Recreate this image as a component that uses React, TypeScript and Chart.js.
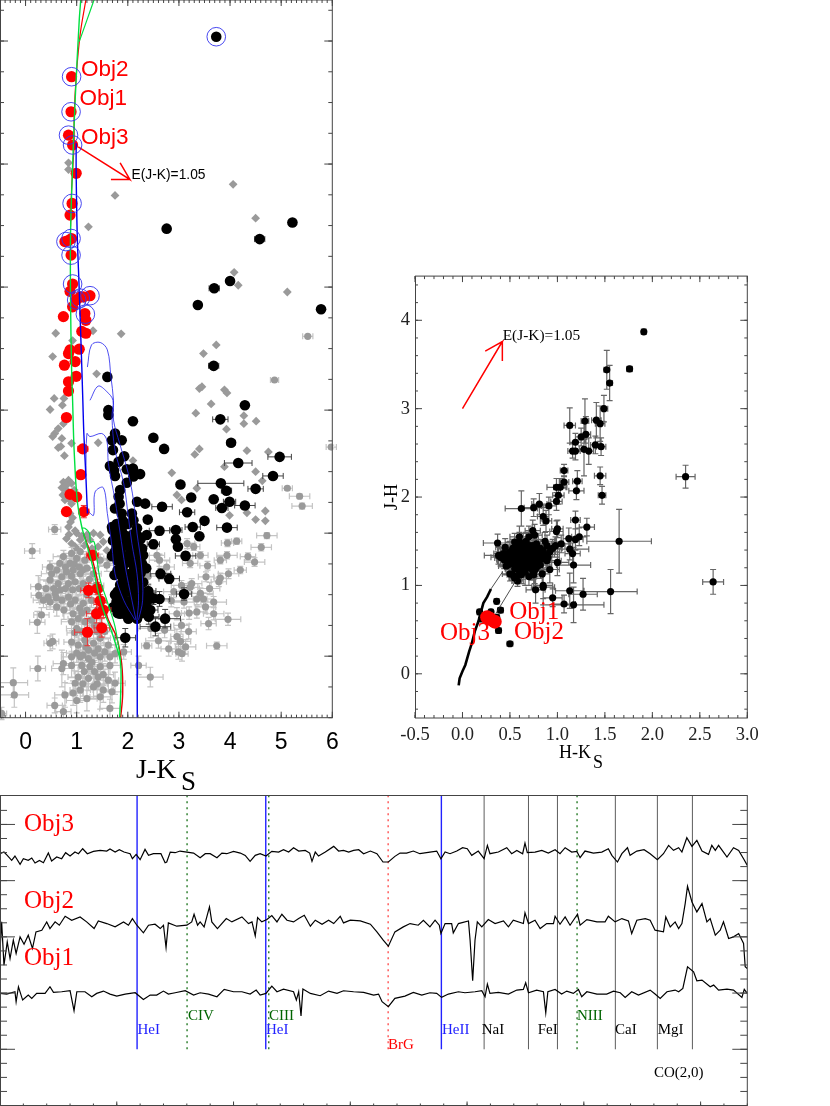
import React, { useEffect, useRef } from "react";
import { Chart, registerables } from "chart.js";
Chart.register(...registerables);

// ---------- Colour-magnitude diagram (J-Ks vs K) ----------
const cmdGrayDiamonds = [[.84,5.98],[.84,6.09],[4.06,6.33],[1.75,6.51],[4.5,6.88],[1.23,7.02],[4.08,7.76],[4.16,7.97],[5.12,8.08],[.59,8.75],[1.32,8.71],[1.87,8.76],[3.73,8.94],[3.48,9.08],[.92,8.87],[.53,9.13],[1.39,9.41],[3.4,9.65],[3.45,9.62],[3.89,9.67],[3.94,9.72],[.56,9.81],[.75,9.81],[.48,9.99],[.72,9.92],[3.63,9.9],[3.33,10.05],[4.27,10.09],[4.27,10.22],[4.51,10.18],[3.93,10.31],[.74,10.22],[.64,10.3],[.57,10.38],[.53,10.43],[.71,10.46],[.64,10.61],[.69,10.59],[.76,10.74],[.9,10.54],[1.42,10.53],[3.4,10.63],[3.31,10.72],[4.33,10.66],[4.75,10.68],[2.1,10.82],[2.86,11.02],[3.89,10.92],[4.5,11.0],[4.63,11.15],[3.35,11.27],[2.96,11.38],[3.05,11.46],[4.69,11.64],[4.33,11.67],[4.5,11.78],[4.69,11.8],[3.99,11.71],[.74,11.17],[.84,11.14],[.9,11.19],[.71,11.26],[.8,11.3],[.73,11.38],[.77,11.46],[.9,11.52],[.84,11.9],[.87,11.68],[.8,12.09],[1.0,12.0],[.9,12.17],[1.07,12.11],[.97,12.22],[1.2,12.03],[1.33,12.0],[1.46,12.03],[1.52,12.14],[1.59,12.28],[1.42,12.22],[1.26,12.11],[.8,11.22],[.95,11.3],[.85,11.45],[.92,11.75],[.88,11.82],[.97,11.96],[.85,12.02],[1.1,12.05],[1.15,12.2],[1.3,12.25],[1.02,12.27]];
const cmdGrayErr = [[5.52,8.8,.1,.02],[4.87,9.51,.08,.02],[5.98,10.6,.1,.03],[5.12,11.27,.1,.03],[5.36,11.4,.2,.04],[5.41,11.56,.2,.05],[4.72,12.04,.2,.05],[4.61,12.23,.2,.06],[4.13,12.13,.1,.05],[3.95,12.16,.12,.06],[4.35,12.38,.15,.06],[4.48,12.47,.2,.07],[4.2,12.6,.12,.06],[3.94,12.36,.2,.06],[3.81,12.44,.12,.06],[3.56,12.53,.15,.07],[3.42,12.36,.15,.06],[3.22,12.49,.15,.07],[3.29,12.22,.12,.06],[3.97,12.66,.2,.08],[3.78,12.79,.15,.08],[3.81,12.73,.12,.08],[3.53,12.71,.15,.08],[3.25,12.82,.2,.08],[3.42,12.98,.25,.09],[3.35,13.07,.2,.09],[3.68,13.12,.25,.09],[3.48,13.07,.2,.1],[3.22,12.88,.15,.08],[3.05,12.85,.2,.08],[2.96,13.31,.15,.1],[3.35,13.28,.2,.1],[3.68,13.31,.2,.1],[3.58,13.47,.15,.1],[3.96,13.4,.25,.1],[3.05,13.5,.15,.1],[3.19,13.6,.15,.12],[2.96,13.68,.12,.12],[3.03,13.76,.2,.12],[3.13,13.85,.2,.12],[2.8,13.88,.15,.12],[2.99,13.93,.12,.12],[3.06,13.96,.12,.12],[3.74,13.83,.2,.06],[2.37,13.83,.1,.05],[2.44,14.34,.25,.16],[.57,11.94,.12,.08],[.13,12.29,.15,.12],[.25,12.87,.15,.18],[.26,13.01,.15,.12],[.31,13.33,.15,.12],[.23,13.45,.15,.18],[.48,13.79,.12,.12],[.53,13.76,.12,.12],[.24,14.2,.15,.2],[-.24,14.43,.28,.24],[-.22,14.63,.28,.2],[-.47,14.93,.1,.1],[.57,14.8,.15,.12],[.74,14.9,.15,.1],[.74,12.38,.2,.1],[.9,12.33,.15,.1],[1.07,12.3,.15,.12],[1.0,12.41,.2,.1],[1.16,12.44,.15,.1],[.87,12.49,.2,.12],[.67,12.49,.2,.12],[.48,12.55,.15,.1],[.51,12.66,.2,.12],[.61,12.6,.2,.1],[.71,12.71,.2,.12],[.8,12.63,.2,.1],[.93,12.6,.15,.1],[1.07,12.66,.2,.12],[1.2,12.57,.2,.1],[1.46,12.44,.15,.1],[1.59,12.52,.15,.1],[1.65,12.41,.12,.08],[.48,12.76,.2,.12],[.64,12.82,.2,.12],[.84,12.82,.2,.15],[.97,12.79,.2,.12],[1.13,12.82,.2,.12],[1.33,12.66,.15,.1],[.44,13.04,.2,.12],[.58,12.98,.2,.15],[.71,13.09,.2,.15],[.48,13.12,.2,.12],[.61,13.2,.2,.15],[.35,13.09,.2,.12],[.84,13.04,.2,.15],[.97,13.09,.2,.15],[1.13,13.14,.2,.15],[1.29,13.09,.2,.12],[.93,13.31,.2,.15],[1.03,13.39,.2,.15],[.9,13.44,.2,.15],[1.0,13.55,.2,.15],[1.16,13.44,.2,.15],[1.29,13.41,.2,.15],[1.46,13.5,.2,.12],[.9,13.77,.15,.15],[1.03,13.82,.15,.15],[1.16,13.74,.2,.15],[1.33,13.79,.2,.15],[1.46,13.71,.2,.12],[1.62,13.82,.15,.12],[1.42,13.88,.2,.15],[1.23,13.9,.2,.15],[1.07,14.01,.2,.18],[.9,14.01,.2,.18],[.74,14.12,.2,.18],[1.23,14.04,.2,.18],[1.46,14.01,.2,.18],[1.65,14.01,.15,.15],[1.92,13.93,.15,.12],[1.75,13.96,.2,.15],[1.1,14.15,.2,.18],[.9,14.15,.2,.2],[.71,14.2,.2,.3],[1.26,14.17,.2,.18],[1.46,14.17,.2,.18],[1.65,14.15,.2,.15],[2.21,14.15,.15,.15],[1.03,14.34,.2,.2],[1.23,14.36,.2,.2],[1.42,14.34,.2,.2],[1.62,14.39,.2,.18],[1.75,14.44,.2,.18],[.97,14.44,.2,.2],[1.07,14.55,.2,.2],[1.33,14.5,.2,.2],[1.52,14.55,.2,.2],[1.69,14.58,.2,.18],[.93,14.6,.2,.2],[1.2,14.69,.2,.2],[1.0,14.72,.2,.2],[1.46,14.66,.2,.2],[1.65,14.85,.2,.15],[.77,14.63,.2,.2],[2.57,12.36,.15,.1],[2.76,12.55,.15,.1],[3.16,12.17,.15,.08],[2.62,12.44,.2,.1],[2.4,12.7,.2,.12],[2.2,13.2,.25,.15],[2.6,13.75,.25,.12],[2.45,13.55,.25,.15],[.95,12.5,.15,.1],[1.05,12.55,.15,.1],[1.12,12.6,.15,.1],[.9,12.7,.15,.1],[.78,12.9,.2,.12],[.92,12.92,.2,.12],[1.05,12.9,.2,.12],[1.2,13.0,.2,.12],[.88,13.15,.2,.15],[1.06,13.22,.2,.15],[1.2,13.25,.2,.15],[.96,13.62,.15,.12],[1.1,13.6,.2,.12],[1.25,13.62,.2,.15],[1.4,13.6,.2,.12],[1.0,13.95,.2,.15],[1.12,13.98,.2,.15],[1.35,13.95,.2,.15],[1.55,13.93,.2,.15],[1.15,14.25,.2,.18],[1.35,14.25,.2,.18],[.55,12.9,.2,.12],[.68,12.92,.2,.12],[.4,12.9,.2,.12],[.75,13.25,.2,.15],[.6,13.05,.2,.12],[.78,12.55,.15,.1],[1.25,12.75,.15,.1],[1.38,12.85,.15,.1],[1.4,13.25,.2,.12],[1.1,13.3,.2,.15],[1.35,13.5,.2,.12],[1.55,13.6,.15,.12],[1.18,13.85,.2,.15],[1.3,14.1,.2,.18],[1.52,14.3,.2,.18],[1.12,14.45,.2,.2],[1.4,14.45,.2,.2],[2.9,12.95,.2,.1],[3.1,13.12,.2,.1],[2.85,13.1,.2,.1],[3.52,13.2,.2,.1],[3.2,13.3,.15,.1],[2.72,13.58,.2,.12],[3.6,12.9,.2,.1]];
const cmdBlack = [[3.73,3.93],[2.76,7.05],[5.22,6.95],[4.58,7.22,.1,.03],[4.0,7.9],[3.69,8.02,.1,.03],[3.37,8.29],[5.78,8.36],[3.68,9.28,.1,.03],[1.6,9.46],[4.29,9.92],[1.62,10.0],[1.62,10.08],[2.1,10.18],[3.81,10.15,.15,.03],[1.75,10.38],[1.69,10.49],[1.88,10.49],[2.5,10.45],[2.71,10.63],[4.02,10.53,.08,.03],[1.71,10.65],[1.93,10.75],[1.82,10.84],[1.65,10.91],[1.73,10.98],[1.75,11.07],[1.98,10.96],[2.1,10.95],[2.24,11.04],[2.11,11.08],[4.16,10.86,.27,.04],[4.97,10.76,.23,.04],[4.84,11.07,.2,.05],[3.03,11.21],[3.82,11.19,.45,.05],[3.93,11.31,.1,.05],[4.5,11.28,.15,.05],[1.98,11.18],[1.85,11.3],[1.82,11.41],[1.84,11.52],[1.75,11.6],[2.18,11.49],[2.34,11.52],[3.24,11.42],[3.68,11.45],[3.99,11.49,.12,.05],[4.29,11.55,.2,.05],[3.84,11.59,.12,.05],[2.67,11.57,.2,.06],[3.16,11.66,.15,.06],[2.08,11.68],[1.88,11.68],[2.11,11.79],[2.39,11.78],[3.5,11.8],[3.27,11.9,.15,.06],[3.94,11.91,.2,.06],[2.94,11.95,.12,.06],[2.62,11.96,.2,.07],[1.69,11.9],[1.82,11.9],[1.75,12.0],[1.88,11.92],[2.18,11.92],[2.0,11.85],[2.37,12.03],[3.4,12.05],[2.94,12.1],[2.98,12.22],[2.5,12.18,.12,.07],[1.71,12.12],[1.84,12.12],[1.78,12.22],[1.94,12.19],[2.08,12.14],[2.18,12.22],[1.9,12.0],[2.25,12.1],[1.69,12.37],[3.13,12.37,.2,.07],[1.92,12.38],[2.08,12.36],[2.3,12.36],[1.95,12.49],[2.21,12.49],[2.36,12.57],[2.64,12.66,.2,.08],[2.81,12.74,.2,.08],[1.74,12.68],[2.05,12.66],[1.98,12.76],[2.18,12.76],[1.85,12.84],[2.08,12.87],[1.8,12.95],[2.01,12.95],[2.24,12.93],[2.4,12.94,.15,.1],[3.1,12.99,.15,.1],[2.5,13.06,.15,.1],[2.62,13.07,.2,.12],[1.78,13.11],[2.04,13.12],[2.21,13.09],[2.44,13.25,.15,.1],[1.92,13.22],[2.08,13.28],[1.85,13.31],[2.01,13.39],[2.18,13.39],[2.41,13.36,.2,.12],[2.73,13.39,.3,.15],[2.54,13.52,.3,.15],[1.95,13.7,.2,.15],[1.95,12.2],[2.05,12.3],[2.12,12.55],[1.9,12.6],[1.95,12.9],[2.15,13.0],[2.3,12.8],[1.88,13.0],[1.95,13.1],[2.12,13.2],[1.7,11.95],[1.78,11.85],[1.9,11.8],[1.98,12.05],[2.1,12.02],[2.2,12.05],[1.75,12.3],[1.85,12.3],[2.0,12.2],[2.15,12.35],[2.28,12.25],[1.8,12.45],[1.88,12.5],[2.05,12.45],[2.28,12.5],[1.8,12.6],[2.1,12.7],[2.25,12.65],[1.9,12.72],[2.02,12.85],[2.15,12.9],[2.3,13.0],[1.75,13.0],[1.88,12.9],[2.12,13.05],[1.72,13.2],[1.85,13.15],[2.0,13.2],[2.2,13.2],[2.32,13.15],[1.8,13.3],[1.95,13.32],[2.1,13.35],[2.28,13.3],[2.38,13.1],[2.45,13.05]];
const cmdRed = [[.9,4.58],[.89,5.15],[.84,5.53],[.92,5.69],[.99,6.15],[.91,6.64],[.87,6.83],[.84,7.24],[.77,7.26],[.9,7.21],[.89,7.48],[.92,7.95],[.87,8.07],[.99,8.21],[.92,8.32],[1.13,8.16],[1.26,8.14],[1.07,8.16],[.74,8.48],[1.16,8.43],[1.18,8.54],[1.1,8.72],[1.18,8.75],[.87,9.02],[1.05,9.01],[.84,9.08],[.97,9.21],[.76,9.27],[.99,9.45],[.84,9.54],[.84,9.69],[.8,10.12],[1.12,10.63,.1,.05],[1.08,11.05],[.87,11.37],[1.0,11.41],[.8,11.65],[1.14,11.65,.1,.1],[1.31,12.36,.12,.08],[1.23,12.93,.15,.12],[1.41,12.9,.1,.1],[1.46,13.1,.12,.1],[1.39,13.31,.2,.15],[1.52,13.25,.15,.12],[1.49,13.54,.15,.15],[1.21,13.61,.25,.22]];
const cmdRings = [[3.73,3.93],[.9,4.58],[.89,5.15],[.84,5.53],[.92,5.69],[.91,6.64],[.79,7.26],[.89,7.21],[.89,7.48],[.92,7.95],[1.0,8.21],[1.07,8.18],[1.26,8.14],[1.17,8.44]];
const cmdBlueTrackA = [[.99,5.66],[.99,6.15],[1.01,7.13],[1.05,8.05],[1.1,9.3],[1.12,9.84],[1.14,10.38],[1.18,11.08],[1.21,11.68]];
const cmdBlueTrackB = [[2.18,13.41],[2.19,14.17],[2.18,15]];
const cmdBlueLoop1 = [[1.21,9.3],[1.29,8.94],[1.46,8.9],[1.6,9.02],[1.67,9.46],[1.72,9.84],[1.72,10.16],[1.84,10.54],[2.01,11.03],[2.11,11.46],[2.18,12.0],[2.27,12.55],[2.29,13.09],[2.21,13.41]];
const cmdBlueLoop2 = [[1.26,9.84],[1.42,9.61],[1.59,9.7],[1.71,9.84],[1.69,10.11],[1.75,10.65],[1.92,11.19],[2.01,11.73],[2.08,12.17],[2.18,12.66],[2.21,13.09],[2.18,13.41]];
const cmdBlueLoop3 = [[1.18,11.08],[1.2,10.38],[1.26,10.43],[1.49,10.38],[1.59,10.49],[1.62,10.87],[1.75,11.46],[1.85,12.0],[1.95,12.55],[2.08,13.09],[2.16,13.41]];
const cmdBlueLoop4 = [[1.23,11.65],[1.33,11.71],[1.36,11.33],[1.52,11.26],[1.6,11.68],[1.69,12.22],[1.75,12.66],[1.92,13.09],[2.14,13.41]];
const cmdGreenMain = [[1.08,3.33],[1.05,3.66],[.97,4.96],[.92,6.04],[.88,7.13],[.88,8.21],[.9,9.3],[.92,9.84],[.95,10.65],[1.01,11.46],[1.1,11.9],[1.21,12.22],[1.33,12.6],[1.42,12.95],[1.52,13.25],[1.65,13.52],[1.78,13.85],[1.86,14.12],[1.86,14.61],[1.84,15]];
const cmdGreenTop = [[1.05,4.01],[1.2,3.66],[1.34,3.33]];
const cmdGreenBump = [[1.1,11.92],[1.16,11.92],[1.25,12.0],[1.27,12.14],[1.34,12.14],[1.39,12.38],[1.46,12.76],[1.59,13.09],[1.75,13.52],[1.86,14.07]];
const cmdRedTop = [[1.18,3.33],[1.07,3.88],[.99,4.58],[.95,5.23],[.95,5.66],[.9,6.42],[.88,7.02]];
const cmdRedBottom = [[1.13,12.0],[1.29,12.38],[1.39,12.71],[1.49,13.09],[1.62,13.41],[1.78,13.69],[1.88,14.12],[1.9,14.61],[1.86,15]];
const cmdArrow = [[1.03,5.72],[2.04,6.25],[1.85,5.98],[2.04,6.25],[1.67,6.25]];
const cmdXLabels = [0, 1, 2, 3, 4, 5, 6];

// ---------- Colour-colour diagram (H-Ks vs J-H) ----------
const ccdBlack = [[1.91,3.87,.02,.03],[1.76,3.45,.03,.03],[1.52,3.44,.03,.22],[1.55,3.29,.03,.2],[1.49,3.0,.04,.15],[1.29,2.86,.04,.25],[1.41,2.87,.05,.2],[1.45,2.83,.05,.2],[1.13,2.81,.06,.2],[1.3,2.71,.05,.2],[1.25,2.68,.06,.1],[1.19,2.62,.06,.1],[1.4,2.59,.05,.1],[1.46,2.57,.05,.1],[1.16,2.52,.05,.08],[1.19,2.52,.05,.1],[1.28,2.54,.05,.3],[1.33,2.52,.05,.15],[1.45,2.24,.06,.1],[1.07,2.3,.04,.07],[1.21,2.18,.05,.12],[1.07,2.17,.05,.07],[1.2,2.07,.08,.1],[1.47,2.02,.04,.1],[.99,2.11,.1,.1],[1.03,2.11,.07,.1],[1.01,2.02,.06,.1],[.99,1.95,.06,.1],[.91,1.9,.08,.1],[.81,1.92,.08,.12],[.75,1.88,.1,.1],[.62,1.87,.17,.2],[.85,1.78,.06,.1],[.88,1.73,.06,.12],[1.19,1.74,.05,.1],[1.31,1.66,.08,.1],[1.0,1.64,.06,.1],[.99,1.61,.07,.12],[.74,1.62,.08,.12],[.76,1.57,.08,.12],[1.65,1.5,.34,.36],[1.12,1.53,.06,.12],[1.23,1.55,.08,.1],[1.19,1.52,.08,.12],[.37,1.48,.15,.1],[.6,1.55,.1,.12],[.87,1.5,.1,.1],[.89,1.45,.1,.12],[.98,1.45,.1,.1],[1.04,1.47,.1,.1],[1.13,1.41,.2,.12],[1.16,1.36,.08,.12],[1.17,1.23,.18,.2],[1.0,1.26,.12,.15],[2.35,2.23,.1,.13],[2.64,1.04,.11,.14],[1.56,.93,.28,.25],[.77,.95,.1,.15],[.85,1.0,.1,.15],[.85,.98,.12,.2],[.95,.86,.1,.1],[1.13,.94,.15,.2],[1.27,.9,.15,.18],[1.07,.79,.12,.1],[1.17,.78,.32,.2],[.84,1.13,.08,.15],[.92,1.18,.1,.15],[.75,1.12,.1,.15],[.4,1.32,.1,.1],[.43,1.36,.1,.1],[.47,1.28,.1,.1],[.5,1.38,.1,.12],[.48,1.23,.1,.1],[.54,1.28,.1,.12],[.55,1.19,.1,.1],[.57,1.36,.1,.12],[.59,1.26,.1,.12],[.61,1.43,.1,.12],[.62,1.32,.1,.12],[.64,1.19,.1,.12],[.66,1.38,.1,.12],[.68,1.26,.12,.15],[.71,1.45,.1,.12],[.71,1.32,.1,.12],[.73,1.21,.12,.15],[.75,1.39,.1,.12],[.76,1.28,.12,.12],[.78,1.47,.1,.12],[.8,1.34,.12,.12],[.82,1.23,.12,.15],[.85,1.39,.12,.12],[.55,1.08,.06,.05],[.5,1.13,.08,.08],[.66,1.15,.1,.15],[.6,1.12,.1,.1],[.89,1.28,.15,.12],[.64,1.47,.1,.12],[.55,1.49,.1,.1],[.45,1.43,.1,.1],[.38,1.34,.15,.1],[.76,1.17,.1,.15],[.52,1.32,.08,.1],[.56,1.25,.08,.1],[.6,1.3,.08,.1],[.65,1.3,.08,.1],[.7,1.38,.08,.1],[.62,1.22,.08,.1],[.72,1.27,.08,.1],[.36,.82,.02,.03],[.38,.49,.03,.03],[.5,.34,.03,.02],[.4,.72,.03,.03],[.36,.64,.03,.03],[.18,.7,.02,.03],[.2,.62,.02,.02],[.3,.7,.02,.03],[.44,1.29,.08,.1],[.46,1.33,.08,.1],[.49,1.31,.08,.1],[.52,1.25,.08,.1],[.53,1.35,.08,.1],[.56,1.3,.08,.1],[.58,1.34,.08,.1],[.58,1.2,.08,.1],[.6,1.38,.08,.1],[.63,1.28,.08,.1],[.63,1.36,.08,.1],[.66,1.24,.08,.1],[.67,1.33,.08,.1],[.69,1.2,.08,.1],[.69,1.42,.08,.1],[.72,1.35,.08,.1],[.74,1.3,.08,.1],[.74,1.16,.08,.1],[.77,1.36,.08,.1],[.79,1.26,.08,.1],[.5,1.25,.08,.1],[.42,1.31,.08,.1],[.48,1.36,.08,.1],[.82,1.42,.1,.1],[.84,1.3,.1,.1],[.87,1.35,.1,.1],[.92,1.38,.1,.1],[.95,1.42,.1,.1],[.58,1.44,.08,.1],[.67,1.5,.08,.1],[.74,1.45,.08,.1],[.62,1.12,.08,.1],[.7,1.1,.08,.1],[.53,1.12,.06,.06],[.58,1.05,.06,.06],[.46,1.22,.08,.1],[.53,1.42,.08,.1],[.6,1.5,.1,.1],[.7,1.55,.1,.12],[.66,1.45,.08,.1],[.78,1.2,.1,.12],[.8,1.42,.08,.1],[.55,1.39,.08,.1],[.6,1.16,.08,.1],[.68,1.36,.08,.1],[.7,1.28,.08,.1],[.65,1.41,.08,.1],[.75,1.24,.08,.1],[.83,1.36,.1,.1],[.9,1.32,.12,.12]];
const ccdRed = [[.26,.64],[.34,.59],[.29,.62]];
const ccdDwarfLocus = [[-.04,-.13],[-.03,-.05],[0,.03],[.03,.1],[.07,.25],[.1,.35],[.13,.48],[.17,.6],[.2,.72],[.22,.8],[.26,.87],[.3,.96]];
const ccdReddeningA = [[.3,.96],[.42,1.15]];
const ccdReddeningB = [[.35,.68],[.56,1.05]];
const ccdArrow = [[0,3],[.42,3.76],[.24,3.65],[.42,3.76],[.42,3.54]];
const ccdXLabels = [-0.5, 0, 0.5, 1, 1.5, 2, 2.5, 3];
const ccdYLabels = [0, 1, 2, 3, 4];

// ---------- K-band spectra (wavelength nm, relative flux + offset) ----------
const specObj3 = [[2000,7.57],[2001.7,7.62],[2003.1,7.52],[2005,7.37],[2006.4,7.5],[2008.6,7.25],[2010,7.42],[2012.1,7.37],[2013.6,7.44],[2015,7.29],[2016.9,7.37],[2018.6,7.3],[2020.7,7.59],[2022.1,7.35],[2024.3,7.47],[2026.4,7.42],[2028.1,7.6],[2030,7.5],[2032.1,7.62],[2033.6,7.57],[2035.4,7.72],[2037.4,7.57],[2040,7.64],[2042.9,7.67],[2045.7,7.65],[2047.1,7.71],[2049.3,7.62],[2051.1,7.69],[2053.1,7.62],[2055.7,7.57],[2056.7,7.42],[2058.3,7.55],[2060,7.39],[2062.1,7.7],[2063.6,7.52],[2065.7,7.57],[2068.9,7.57],[2070.7,7.3],[2071.4,7.32],[2072.9,7.62],[2075,7.6],[2077.1,7.65],[2080,7.62],[2082.9,7.59],[2085.7,7.45],[2087.9,7.57],[2090,7.57],[2092.9,7.45],[2095,7.59],[2097.1,7.57],[2100,7.64],[2102.9,7.59],[2105,7.52],[2107.1,7.34],[2109.3,7.52],[2111.4,7.57],[2113.9,7.5],[2116.4,7.64],[2119.3,7.62],[2121.4,7.69],[2123.6,7.62],[2125.7,7.75],[2127.9,7.65],[2130.7,7.67],[2132.6,7.59],[2133.6,7.34],[2135,7.62],[2136.4,7.5],[2139.3,7.62],[2142.9,7.79],[2145,7.65],[2147.1,7.67],[2149.3,7.62],[2151.4,7.67],[2153.6,7.69],[2155.7,7.57],[2158.6,7.65],[2161.4,7.57],[2164,7.32],[2166.3,7.32],[2169.1,7.49],[2171.3,7.59],[2174.1,7.59],[2177,7.65],[2179.8,7.57],[2184.1,7.62],[2187,7.65],[2188.8,7.42],[2190.6,7.62],[2192.7,7.57],[2195.6,7.65],[2198.1,7.75],[2200.1,7.72],[2202,7.52],[2204.8,7.65],[2207.3,7.42],[2208.7,7.82],[2209.8,7.57],[2213.4,7.62],[2217,7.75],[2219.1,7.57],[2221.3,7.67],[2223.8,7.57],[2224.8,7.89],[2225.8,7.6],[2229.1,7.62],[2232,7.67],[2234.8,7.59],[2237.7,7.69],[2239.8,7.57],[2242,7.75],[2244.8,7.62],[2247,7.64],[2248.4,7.45],[2250.5,7.65],[2254.1,7.59],[2257.7,7.62],[2260.5,7.72],[2262,7.52],[2264.4,7.32],[2266.3,7.57],[2268.7,7.75],[2269.8,7.52],[2272.7,7.65],[2275.8,7.69],[2278.4,7.57],[2281.5,7.39],[2284.1,7.57],[2286.3,7.82],[2288.4,7.67],[2290.6,7.75],[2292,7.62],[2294.1,8.05],[2296.3,7.79],[2298.4,7.97],[2300.6,7.65],[2303.4,7.55],[2304.8,7.82],[2306.3,7.67],[2307.7,7.82],[2309.8,7.62],[2311.3,7.47],[2314.1,7.75],[2316.3,7.67],[2318.4,7.42],[2320,7.22]];
const specObj2 = [[2000,4.67],[2000.7,5.52],[2001.7,4.22],[2003.1,4.92],[2004.3,4.42],[2005.7,4.97],[2006.9,4.57],[2008.6,5.07],[2010.3,4.85],[2012.1,5.12],[2013.9,4.72],[2015.4,5.22],[2017.9,5.27],[2020,5.52],[2021.4,5.32],[2023.6,5.52],[2025.4,5.42],[2027.9,5.69],[2030.7,5.57],[2034.3,5.67],[2037.1,5.52],[2040.3,5.32],[2042.1,5.55],[2045.7,5.47],[2049.3,5.37],[2052.9,5.52],[2055,5.42],[2056.7,5.62],[2058.6,5.42],[2061.4,5.19],[2063.6,5.42],[2066.4,5.45],[2068.6,5.32],[2070,5.42],[2071.1,4.75],[2072.1,5.49],[2075.7,5.39],[2080,5.42],[2082.1,5.52],[2083.1,5.75],[2084.6,5.42],[2085.7,5.52],[2087.4,5.37],[2089.7,5.97],[2090.7,5.52],[2093.1,5.32],[2096.9,5.62],[2099.3,5.52],[2103.6,5.67],[2106.4,5.47],[2107.9,5.52],[2109.3,5.1],[2110.3,5.65],[2112.1,5.52],[2114.3,5.59],[2116.4,5.71],[2118.6,5.52],[2120.7,5.75],[2122.9,5.57],[2125.7,5.52],[2127.9,5.62],[2130.3,5.72],[2132.9,5.39],[2135,5.57],[2137.9,5.45],[2140.7,5.57],[2142.9,5.47],[2145.7,5.69],[2147.1,5.49],[2150,5.57],[2154.3,5.55],[2158.6,5.45],[2161.4,5.22],[2164.1,4.97],[2166.3,4.79],[2169.1,5.22],[2172.7,5.37],[2175.6,5.47],[2179.1,5.42],[2181.3,5.57],[2184.1,5.37],[2186.3,5.57],[2188.1,5.42],[2188.8,5.17],[2190.6,5.47],[2193.4,5.47],[2194.1,5.19],[2196.3,5.47],[2200.6,5.55],[2201.3,4.97],[2202.4,3.75],[2203.4,4.97],[2204.4,5.52],[2206.3,5.37],[2209.1,5.59],[2212,5.47],[2215.6,5.55],[2217.7,5.37],[2219.8,5.57],[2224.1,5.47],[2224.8,5.79],[2226.3,5.47],[2229.1,5.57],[2231.3,5.32],[2234.1,5.47],[2237,5.47],[2237.7,5.69],[2239.8,5.45],[2242,5.67],[2244.1,5.42],[2247.3,5.75],[2248.4,5.42],[2251.3,5.59],[2255.6,5.52],[2259.1,5.52],[2260.5,5.69],[2263.4,5.52],[2266.3,5.62],[2269.1,5.55],[2270.5,5.17],[2272.7,5.57],[2276.3,5.62],[2278.4,5.57],[2280.5,5.27],[2284.1,5.22],[2285.1,5.67],[2287,5.37],[2289.1,5.52],[2290.6,5.32],[2292,5.47],[2293.4,6.07],[2294.4,6.59],[2296.3,6.12],[2298.4,5.82],[2300.6,6.07],[2302.7,5.52],[2304.1,5.62],[2306.3,5.12],[2308.4,5.27],[2309.8,5.52],[2312,5.02],[2314.1,5.07],[2316.3,5.17],[2318.4,4.87],[2319.1,4.17],[2320,4.12]];
const specObj1 = [[2000,3.37],[2002.9,3.35],[2006.4,3.42],[2006.9,3.12],[2007.9,3.57],[2009.7,3.17],[2012.1,3.32],[2013.6,3.22],[2015.7,3.37],[2019.3,3.37],[2021.4,3.57],[2022.9,3.4],[2026.4,3.42],[2030,3.45],[2031.7,2.85],[2032.9,3.42],[2036.4,3.42],[2039.3,3.27],[2041.4,3.37],[2044.3,3.44],[2047.1,3.35],[2050,3.29],[2053.6,3.35],[2057.9,3.39],[2061.4,3.19],[2064.3,3.32],[2067.1,3.32],[2070,3.44],[2072.1,3.35],[2075,3.39],[2079.3,3.45],[2082.9,3.32],[2085.7,3.39],[2089.3,3.35],[2092.9,3.27],[2096,3.49],[2100,3.42],[2103.6,3.42],[2107.1,3.35],[2109.7,3.47],[2111.4,3.32],[2113.9,3.37],[2116.4,3.59],[2118.6,3.42],[2121.4,3.5],[2125.7,3.42],[2126.9,3.17],[2127.9,3.42],[2128.9,2.69],[2129.7,3.5],[2132.9,3.37],[2137.1,3.3],[2140.7,3.44],[2144.3,3.37],[2147.1,3.45],[2151.4,3.42],[2155.7,3.4],[2160,3.32],[2162.1,3.35],[2163.6,3.12],[2166.3,2.97],[2169.1,3.22],[2173.4,3.29],[2177,3.4],[2180.6,3.32],[2184.1,3.39],[2187,3.37],[2189.1,3.25],[2192,3.35],[2196.3,3.42],[2199.1,3.39],[2203.4,3.42],[2206.3,3.45],[2207.7,3.27],[2208.7,3.65],[2209.8,3.37],[2213.4,3.4],[2217.7,3.35],[2221.3,3.47],[2224.1,3.49],[2225.1,3.69],[2226.3,3.39],[2229.8,3.47],[2232.7,3.42],[2233.7,2.79],[2234.6,3.42],[2237.7,3.49],[2240.5,3.35],[2242.7,3.44],[2245.5,3.37],[2247.7,3.49],[2249.1,3.27],[2251.3,3.42],[2255.6,3.35],[2259.8,3.35],[2262.7,3.44],[2265.6,3.39],[2267.7,3.25],[2270.5,3.42],[2273.4,3.32],[2278.4,3.47],[2280.5,3.35],[2282.7,3.22],[2285.6,3.42],[2289.1,3.47],[2290.6,3.42],[2292.4,3.52],[2294.4,4.17],[2297,4.02],[2298.4,3.75],[2300.6,3.77],[2304.1,3.57],[2305.6,3.62],[2307.7,3.47],[2311.3,3.5],[2314.1,3.47],[2317.7,3.25],[2318.7,3.49],[2320,3.37]];
const lineWavesBlue = [2058.7, 2113.8, 2189];
const lineWavesGreen = [2080.1, 2115.1, 2247.1];
const lineWavesRed = [2166.2];
const lineWavesBlack = [2207.3, 2226.3, 2238.7, 2263.5, 2281.5, 2296.5];

type Txt = { t: string; x: number; y: number; font: string; color: string; rot?: number; align?: CanvasTextAlign };
type Cfg = {
  page: [number, number];
  xMajor: number[]; xMinor: number[]; yMajor: number[]; yMinor: number[];
  xLen: [number, number]; yLen: [number, number];
  texts: Txt[];
  topTicks?: boolean;
};

const seq = (a: number, b: number, s: number) => {
  const out: number[] = [];
  const n = Math.round((b - a) / s);
  for (let i = 0; i <= n; i++) out.push(+(a + i * s).toFixed(4));
  return out;
};

const framePlugin = (cfg: Cfg) => ({
  id: "idlFrame",
  beforeDatasetDraw(chart: any, args: any) {
    const ds = chart.data.datasets[args.index];
    if (!ds.errColor) return;
    const ctx = chart.ctx, X = chart.scales.x, Y = chart.scales.y;
    ctx.save();
    ctx.strokeStyle = ds.errColor;
    ctx.lineWidth = ds.errWidth || 1;
    ctx.beginPath();
    for (const p of ds.data) {
      if (!p.ex && !p.ey) continue;
      const cx = X.getPixelForValue(p.x), cy = Y.getPixelForValue(p.y);
      if (p.ex) {
        const l = X.getPixelForValue(p.x - p.ex), r = X.getPixelForValue(p.x + p.ex);
        ctx.moveTo(l, cy); ctx.lineTo(r, cy);
        ctx.moveTo(l, cy - 3); ctx.lineTo(l, cy + 3);
        ctx.moveTo(r, cy - 3); ctx.lineTo(r, cy + 3);
      }
      if (p.ey) {
        const t = Y.getPixelForValue(p.y - p.ey), b = Y.getPixelForValue(p.y + p.ey);
        ctx.moveTo(cx, t); ctx.lineTo(cx, b);
        ctx.moveTo(cx - 3, t); ctx.lineTo(cx + 3, t);
        ctx.moveTo(cx - 3, b); ctx.lineTo(cx + 3, b);
      }
    }
    ctx.stroke();
    ctx.restore();
  },
  afterDatasetsDraw(chart: any) {
    const ctx = chart.ctx, X = chart.scales.x, Y = chart.scales.y;
    const a = chart.chartArea;
    ctx.save();
    ctx.strokeStyle = "#444";
    ctx.lineWidth = 1;
    ctx.strokeRect(a.left + 0.5, a.top, a.right - a.left - 0.5, a.bottom - a.top);
    ctx.beginPath();
    const xt = (vals: number[], len: number) => {
      for (const v of vals) {
        const p = X.getPixelForValue(v);
        ctx.moveTo(p, a.bottom); ctx.lineTo(p, a.bottom - len);
        if (cfg.topTicks !== false) { ctx.moveTo(p, a.top); ctx.lineTo(p, a.top + len); }
      }
    };
    const yt = (vals: number[], len: number) => {
      for (const v of vals) {
        const p = Y.getPixelForValue(v);
        ctx.moveTo(a.left, p); ctx.lineTo(a.left + len, p);
        ctx.moveTo(a.right, p); ctx.lineTo(a.right - len, p);
      }
    };
    xt(cfg.xMinor, cfg.xLen[0]); xt(cfg.xMajor, cfg.xLen[1]);
    yt(cfg.yMinor, cfg.yLen[0]); yt(cfg.yMajor, cfg.yLen[1]);
    ctx.stroke();
    ctx.textBaseline = "middle";
    for (const t of cfg.texts) {
      ctx.save();
      ctx.font = t.font;
      ctx.fillStyle = t.color;
      ctx.textAlign = t.align || "left";
      ctx.translate(t.x - cfg.page[0], t.y - cfg.page[1]);
      if (t.rot) ctx.rotate(t.rot);
      ctx.fillText(t.t, 0, 0);
      ctx.restore();
    }
    ctx.restore();
  },
});

const xy = (rows: number[][]) => rows.map((r) => ({ x: r[0], y: r[1], ex: r[2], ey: r[3] }));
const line = (rows: number[][], color: string, width: number, extra: any = {}) => ({
  data: xy(rows), showLine: true, borderColor: color, borderWidth: width, pointRadius: 0, tension: 0, ...extra,
});
const pts = (rows: number[][], color: string, radius: number, extra: any = {}) => ({
  data: xy(rows), showLine: false, backgroundColor: color, borderWidth: 0, pointBorderWidth: 0, pointRadius: radius, ...extra,
});

const baseAxis = (min: number, max: number, fit: (s: any) => void, extra: any = {}) => ({
  type: "linear", min, max, afterFit: fit,
  grid: { display: false, drawTicks: false }, border: { display: false },
  ...extra,
});

const SERIF = '"Liberation Serif"';
const SANS = '"Liberation Sans"';
const RED = "#ff0000";

function useChart(ref: React.RefObject<HTMLCanvasElement | null>, make: () => any) {
  useEffect(() => {
    const c = new Chart(ref.current as HTMLCanvasElement, make());
    return () => c.destroy();
  }, []);
}

const smooth = { tension: 0.35 };

const cmdConfig = () => ({
  type: "scatter",
  plugins: [framePlugin({
    page: [0, 0],
    xMajor: cmdXLabels, xMinor: seq(-0.5, 6, 0.1),
    yMajor: seq(4, 14, 2), yMinor: seq(3.5, 15, 0.5),
    xLen: [3, 6], yLen: [4, 8],
    texts: [
      { t: "Obj2", x: 81, y: 70, font: `22.5px ${SANS}`, color: RED },
      { t: "Obj1", x: 79.5, y: 99, font: `22.5px ${SANS}`, color: RED },
      { t: "Obj3", x: 81, y: 138, font: `22.5px ${SANS}`, color: RED },
      { t: "E(J-K)=1.05", x: 131.5, y: 175, font: `13.8px ${SANS}`, color: "#000" },
      { t: "J-K", x: 136, y: 771, font: `28px ${SERIF}`, color: "#000" },
      { t: "S", x: 181, y: 783, font: `27px ${SERIF}`, color: "#000" },
    ],
  })],
  data: {
    datasets: [
      pts(cmdRings, "rgba(0,0,0,0)", 9.3, { pointBorderWidth: 0.9, borderColor: "#3333ee", pointBorderColor: "#3333ee" }),
      line(cmdArrow, RED, 1.5),
      line(cmdGreenMain, "#00e040", 1.4, smooth),
      line(cmdGreenTop, "#00e040", 1.2, smooth),
      line(cmdGreenBump, "#00e040", 1.2, smooth),
      line(cmdRedTop, RED, 1.2, smooth),
      line(cmdRedBottom, "#e00000", 1.4, smooth),
      line(cmdBlueTrackA, "#0000ee", 1.4, smooth),
      line(cmdBlueTrackB, "#0000ee", 1.4),
      line(cmdBlueLoop1, "#2222ee", 0.8, smooth),
      line(cmdBlueLoop2, "#2222ee", 0.8, smooth),
      line(cmdBlueLoop3, "#2222ee", 0.8, smooth),
      line(cmdBlueLoop4, "#2222ee", 0.8, smooth),
      pts(cmdRed, RED, 5.6, { errColor: "#ee3333" }),
      pts(cmdBlack, "#000", 5.3, { errColor: "#444" }),
      pts(cmdGrayErr, "#9a9a9a", 3.6, { errColor: "#c4c4c4", errWidth: 1.2 }),
      pts(cmdGrayDiamonds, "#9a9a9a", 4.4, { pointStyle: "rectRot" }),
    ],
  },
  options: {
    animation: false, responsive: false,
    layout: { autoPadding: false, padding: { left: 0, top: 0, right: 360 - 332.3, bottom: 0 } },
    plugins: { legend: { display: false }, tooltip: { enabled: false } },
    scales: {
      x: baseAxis(-0.5, 6, (s: any) => { s.height = 800 - 717.7; }, {
        afterBuildTicks: (s: any) => { s.ticks = cmdXLabels.map((value) => ({ value })); },
        ticks: { autoSkip: false, maxRotation: 0, padding: 11, color: "#000", font: { family: "Liberation Sans", size: 23 }, callback: (v: number) => String(v) },
      }),
      y: baseAxis(3.333, 15, (s: any) => { s.width = 0; }, { reverse: true, ticks: { display: false } }),
    },
  },
});

const ccdConfig = () => ({
  type: "scatter",
  plugins: [framePlugin({
    page: [380, 260],
    xMajor: ccdXLabels, xMinor: seq(-0.5, 3, 0.1),
    yMajor: ccdYLabels, yMinor: seq(-0.4, 4.4, 0.2),
    xLen: [3, 6], yLen: [3, 7],
    texts: [
      { t: "E(J-K)=1.05", x: 502.7, y: 336, font: `15.4px ${SERIF}`, color: "#000" },
      { t: "Obj1", x: 509.3, y: 612, font: `25px ${SERIF}`, color: RED },
      { t: "Obj2", x: 514, y: 632, font: `25px ${SERIF}`, color: RED },
      { t: "Obj3", x: 440, y: 633, font: `25px ${SERIF}`, color: RED },
      { t: "H-K", x: 559, y: 753, font: `18px ${SERIF}`, color: "#000" },
      { t: "S", x: 593, y: 763, font: `18px ${SERIF}`, color: "#000" },
      { t: "J-H", x: 392, y: 497, font: `18px ${SERIF}`, color: "#000", rot: -Math.PI / 2, align: "center" },
    ],
  })],
  data: {
    datasets: [
      line(ccdArrow, RED, 1.5),
      pts(ccdRed, RED, 7),
      line(ccdDwarfLocus, "#000", 2.6),
      line(ccdReddeningA, "#222", 0.8),
      line(ccdReddeningB, "#222", 0.8),
      pts(ccdBlack, "#000", 3.6, { errColor: "#666", errWidth: 1.2 }),
    ],
  },
  options: {
    animation: false, responsive: false,
    layout: { autoPadding: false, padding: { left: 0, top: 14.7, right: 400 - 367.3, bottom: 0 } },
    plugins: { legend: { display: false }, tooltip: { enabled: false } },
    scales: {
      x: baseAxis(-0.5, 3, (s: any) => { s.height = 520 - 458; }, {
        afterBuildTicks: (s: any) => { s.ticks = ccdXLabels.map((value) => ({ value })); },
        ticks: { autoSkip: false, maxRotation: 0, padding: 6, color: "#222", font: { family: "Liberation Serif", size: 18.5 }, callback: (v: number) => v.toFixed(1) },
      }),
      y: baseAxis(-0.5, 4.5, (s: any) => { s.width = 35; }, {
        afterBuildTicks: (s: any) => { s.ticks = ccdYLabels.map((value) => ({ value })); },
        ticks: { padding: 5, color: "#222", font: { family: "Liberation Serif", size: 18.5 }, callback: (v: number) => String(v) },
      }),
    },
  },
});

const FLUX_TOP = 9.32, LINE_FOOT = 1.69;
const vline = (w: number, color: string, width: number, extra: any = {}) =>
  line([[w, LINE_FOOT], [w, FLUX_TOP]], color, width, extra);

const labelFont = `15px ${SERIF}`;
const specConfig = () => ({
  type: "scatter",
  plugins: [framePlugin({
    page: [0, 790],
    xMajor: seq(2000, 2300, 50), xMinor: seq(2000, 2320, 10),
    yMajor: seq(0, 8.45, 1.69), yMinor: seq(0, 8.8725, 0.4225),
    xLen: [2, 4], yLen: [7, 15],
    topTicks: false,
    texts: [
      { t: "Obj3", x: 24, y: 824, font: `25px ${SERIF}`, color: RED },
      { t: "Obj2", x: 24, y: 901, font: `25px ${SERIF}`, color: RED },
      { t: "Obj1", x: 24, y: 958, font: `25px ${SERIF}`, color: RED },
      { t: "HeI", x: 137.5, y: 1030.5, font: labelFont, color: "#2222ff" },
      { t: "CIV", x: 188, y: 1016.5, font: labelFont, color: "#006400" },
      { t: "HeI", x: 266, y: 1030.5, font: labelFont, color: "#2222ff" },
      { t: "CIII", x: 269, y: 1016.5, font: labelFont, color: "#006400" },
      { t: "BrG", x: 388, y: 1045, font: labelFont, color: RED },
      { t: "HeII", x: 442, y: 1030.5, font: labelFont, color: "#2222ff" },
      { t: "NaI", x: 481.7, y: 1030.5, font: labelFont, color: "#000" },
      { t: "FeI", x: 537.7, y: 1030.5, font: labelFont, color: "#000" },
      { t: "NIII", x: 577, y: 1016.5, font: labelFont, color: "#006400" },
      { t: "CaI", x: 615, y: 1030.5, font: labelFont, color: "#000" },
      { t: "MgI", x: 657.7, y: 1030.5, font: labelFont, color: "#000" },
      { t: "CO(2,0)", x: 654, y: 1073, font: labelFont, color: "#000" },
    ],
  })],
  data: {
    datasets: [
      line(specObj3, "#000", 1.2),
      line(specObj2, "#000", 1.2),
      line(specObj1, "#000", 1.2),
      ...lineWavesBlue.map((w) => vline(w, "#2222ff", 1.4)),
      ...lineWavesGreen.map((w) => vline(w, "#006400", 1.2, { borderDash: [2, 4] })),
      ...lineWavesRed.map((w) => vline(w, "#ff3333", 1.2, { borderDash: [2, 4] })),
      ...lineWavesBlack.map((w) => vline(w, "#333", 0.8)),
    ],
  },
  options: {
    animation: false, responsive: false,
    layout: { autoPadding: false, padding: { left: 0, top: 5.5, right: 760 - 747.3, bottom: 0 } },
    plugins: { legend: { display: false }, tooltip: { enabled: false } },
    scales: {
      x: baseAxis(2000, 2320, (s: any) => { s.height = 0.5; }, { ticks: { display: false } }),
      y: baseAxis(0, FLUX_TOP, (s: any) => { s.width = 0; }, { ticks: { display: false } }),
    },
  },
});

const abs = (left: number, top: number): React.CSSProperties => ({ position: "absolute", left, top, display: "block" });

export default function App() {
  const a = useRef<HTMLCanvasElement>(null);
  const b = useRef<HTMLCanvasElement>(null);
  const c = useRef<HTMLCanvasElement>(null);
  useChart(a, cmdConfig);
  useChart(b, ccdConfig);
  useChart(c, specConfig);
  return (
    <div style={{ position: "absolute", left: 0, top: 0, width: 830, height: 1106, overflow: "hidden", background: "#fff" }}>
      <canvas ref={c} width={760} height={316} style={abs(0, 790)} />
      <canvas ref={a} width={360} height={800} style={abs(0, 0)} />
      <canvas ref={b} width={400} height={520} style={abs(380, 260)} />
    </div>
  );
}
